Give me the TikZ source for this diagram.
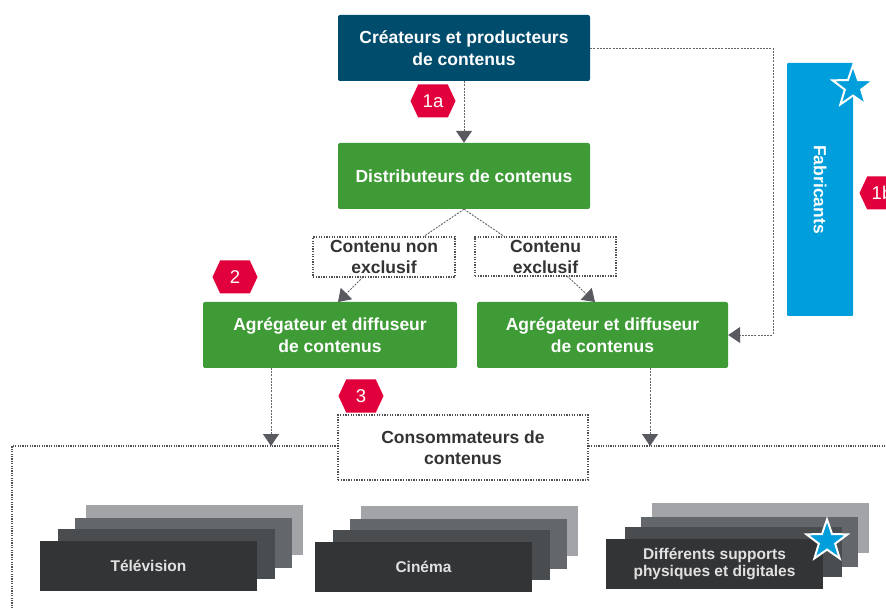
\documentclass[tikz,border=0pt]{standalone}
\usepackage{fontspec}
\setmainfont{Liberation Sans}
\usetikzlibrary{arrows.meta,shapes.geometric,shapes.symbols}
\definecolor{tealbox}{RGB}{0,76,109}
\definecolor{greenbox}{RGB}{62,155,54}
\definecolor{bluebar}{RGB}{0,158,219}
\definecolor{crimson}{RGB}{226,0,60}
\definecolor{linegray}{RGB}{100,102,106}
\definecolor{tipgray}{RGB}{88,90,95}
\definecolor{dotgray}{RGB}{80,80,84}
\definecolor{textdark}{RGB}{51,51,53}
\definecolor{layerA}{RGB}{51,52,54}
\definecolor{layerB}{RGB}{74,77,80}
\definecolor{layerC}{RGB}{99,102,106}
\definecolor{layerD}{RGB}{162,164,167}
\definecolor{labelgray}{RGB}{225,225,225}
\begin{document}
\begin{tikzpicture}[x=1pt,y=-1pt,
  box/.style={rounded corners=2pt, minimum width=252pt, minimum height=66pt,
    inner sep=0pt, align=center, text=white,
    font=\fontsize{17.5}{22}\selectfont\bfseries},
  dotbox/.style={draw=dotgray, line width=1.3pt, dash pattern=on 1.3pt off 1.3pt,
    fill=white, inner sep=0pt, align=center, text=textdark,
    font=\fontsize{17.5}{21}\selectfont\bfseries},
  hexa/.style={signal, signal to=west and east, signal pointer angle=130,
    fill=crimson, text=white, minimum width=45pt, minimum height=33pt,
    inner sep=0pt, font=\fontsize{18.5}{18.5}\selectfont},
  starmark/.style={star, star points=5, star point ratio=2.5, minimum size=43pt,
    inner sep=0pt, fill=bluebar, draw=white, line width=2pt},
  flow/.style={draw=linegray, line width=0.9pt, dash pattern=on 2pt off 1.2pt},
  tip/.style={-{Triangle[width=16pt,length=12pt,fill=tipgray,color=tipgray]}},
  frameline/.style={draw=dotgray, line width=1.4pt, dash pattern=on 1.2pt off 1.2pt},
  layer/.style={minimum width=217pt, minimum height=50pt, inner sep=0pt},
  front/.style={layer, fill=layerA, text=labelgray, align=center,
    font=\fontsize{15.5}{17}\selectfont\bfseries}
]
\useasboundingbox (0,0) rectangle (886,609);

% main chain
\node[box, fill=tealbox] (crea) at (464,48) {Créateurs et producteurs\\de contenus};
\node[box, fill=greenbox] (dist) at (464,176) {Distributeurs de contenus};
\node[box, fill=greenbox, minimum width=254pt] (agL) at (330,335) {Agrégateur et diffuseur\\de contenus};
\node[box, fill=greenbox, minimum width=251pt] (agR) at (602.5,335) {Agrégateur et diffuseur\\de contenus};

% manufacturers bar
\node[fill=bluebar, rounded corners=1pt, minimum width=66pt, minimum height=253pt,
  inner sep=0pt] (fab) at (820,189.5) {};
\node[rotate=-90, text=white, font=\fontsize{17.5}{20}\selectfont\bfseries] (fabtxt) at (fab.center) {Fabricants};
\node[starmark] (starA) at (853,87) {};

% content type labels
\node[dotbox, minimum width=142pt, minimum height=40pt] (nonex) at (384,257) {Contenu non\\exclusif};
\node[dotbox, minimum width=141pt, minimum height=39pt] (excl) at (545.5,256.5) {Contenu\\exclusif};

% connectors
\draw[flow, tip] (crea.south) -- (dist.north);
\coordinate (bendR) at (773,48);
\draw[flow, tip] (crea.east) -- (bendR) |- (agR.east);
\coordinate (nonexIn) at (423,237);
\coordinate (exclIn) at (505,237);
\draw[flow] (dist.south) -- (nonexIn);
\draw[flow] (dist.south) -- (exclIn);
\coordinate (nonexOut) at (363,277);
\coordinate (exclOut) at (567,276);
\coordinate (agLIn) at (338,302);
\coordinate (agRIn) at (595,302);
\draw[flow, tip] (nonexOut) -- (agLIn);
\draw[flow, tip] (exclOut) -- (agRIn);

% consumer frame
\coordinate (frameL) at (12,446);
\coordinate (frameR) at (890,446);
\coordinate (frameB) at (12,612);
\draw[frameline] (frameR) -- (frameL) -- (frameB);
\coordinate (agLOut) at (271,368);
\coordinate (agROut) at (650,368);
\coordinate (downL) at (271,446);
\coordinate (downR) at (650,446);
\draw[flow, tip] (agLOut) -- (downL);
\draw[flow, tip] (agROut) -- (downR);
\node[dotbox, minimum width=250pt, minimum height=65pt] (cons) at (463,447.5) {Consommateurs de\\contenus};

% step markers
\node[hexa] (s1a) at (433,101) {1a};
\node[hexa] (s1b) at (882,193) {1b};
\node[hexa] (s2) at (235,277) {2};
\node[hexa] (s3) at (361,396) {3};

% television stack
\node[layer, fill=layerD] (tvD) at (194.5,530) {};
\node[layer, fill=layerC] (tvC) at (183,543) {};
\node[layer, fill=layerB] (tvB) at (166.5,554) {};
\node[front] (tv) at (148.5,566) {Télévision};

% cinema stack
\node[layer, fill=layerD] (cinD) at (469,531) {};
\node[layer, fill=layerC] (cinC) at (458,544) {};
\node[layer, fill=layerB] (cinB) at (441.5,555) {};
\node[front] (cin) at (423.5,567) {Cinéma};

% other media stack
\node[layer, fill=layerD] (supD) at (760,528) {};
\node[layer, fill=layerC] (supC) at (749,542) {};
\node[layer, fill=layerB] (supB) at (733,552) {};
\node[front] (sup) at (714.5,564) {Différents supports\\physiques et digitales};
\node[starmark] (starB) at (827,541) {};
\end{tikzpicture}
\end{document}
